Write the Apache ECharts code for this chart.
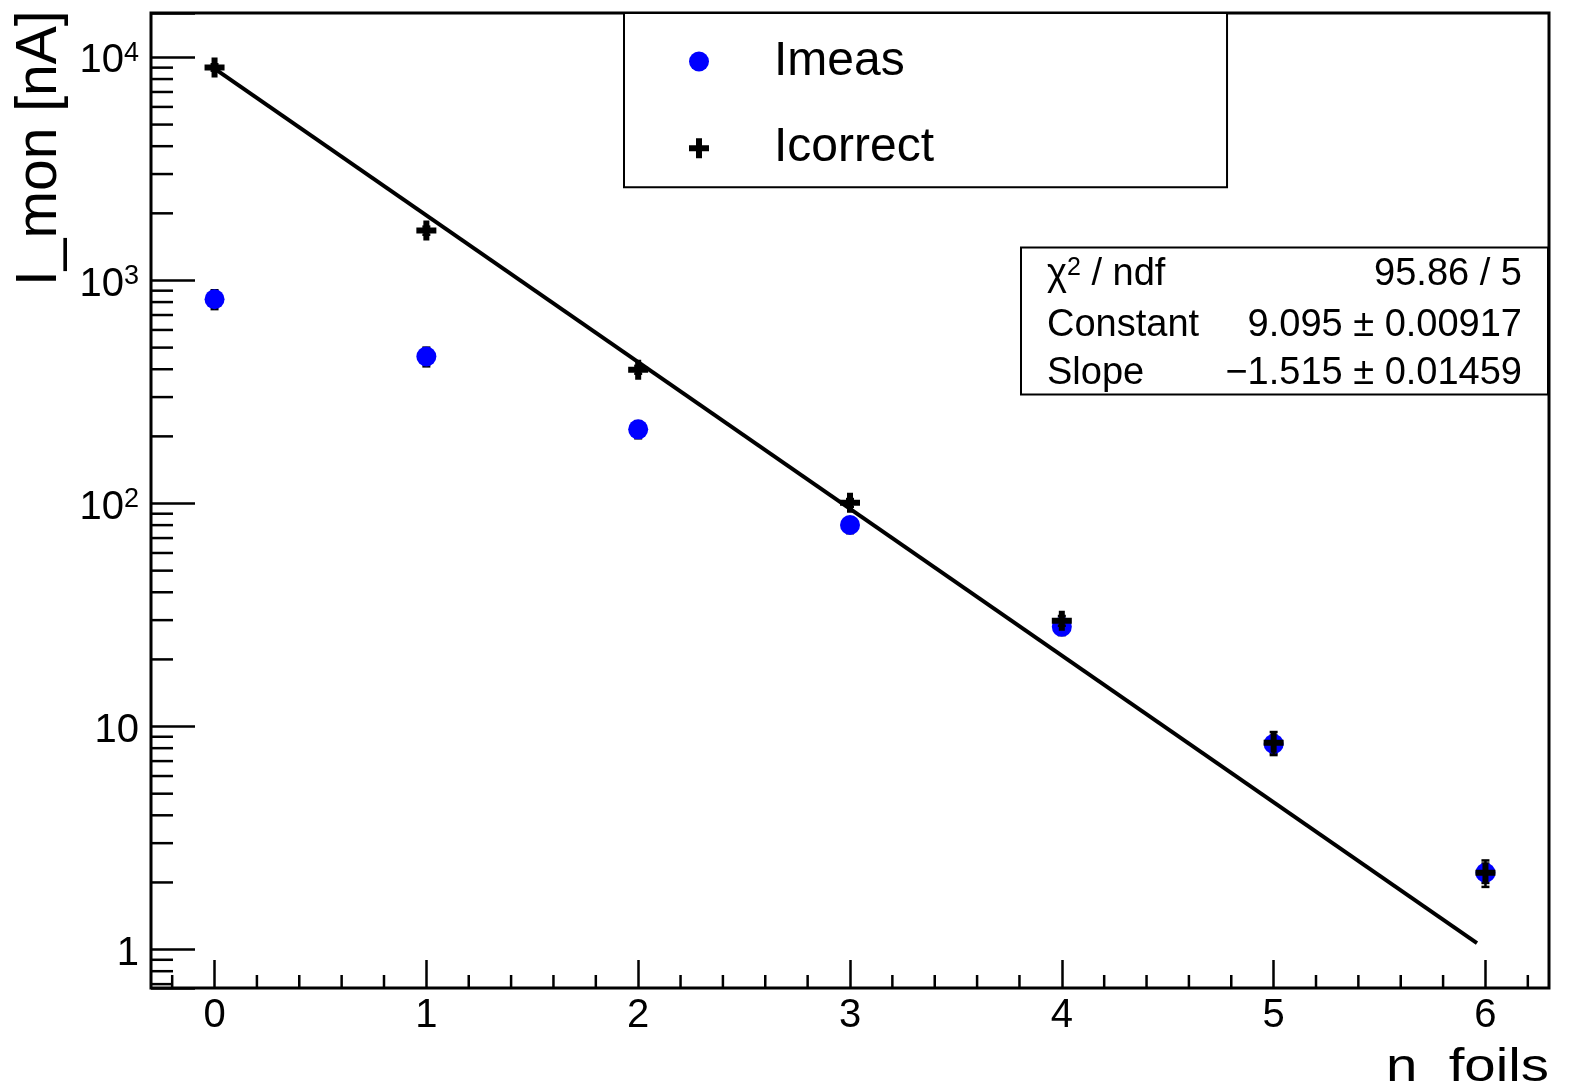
<!DOCTYPE html>
<html><head><meta charset="utf-8">
<script src="https://cdn.jsdelivr.net/npm/echarts@6/dist/echarts.min.js"></script>
<style>html,body{margin:0;padding:0;background:#fff}#c{width:1580px;height:1088px}</style>
</head><body><div id="c"></div>
<script>
// ---- data ----
const nFoils = [0, 1, 2, 3, 4, 5, 6];
const imeas = [824, 456, 215, 80.1, 28.0, 8.36, 2.21];
const imeasErr = [80, 44, 19, 6.5, 2.3, 0.75, 0.22];
const icorrect = [9018, 1673, 398, 100.7, 29.8, 8.45, 2.21];
const icorrectErr = [300, 70, 16, 4, 1.5, 1.0, 0.3];
const fitX = [0, 5.96];
const fitY = [8914, 1.068];
const xTickValues = [0, 1, 2, 3, 4, 5, 6];
const xTickLabels = ['0', '1', '2', '3', '4', '5', '6'];
const xMinorValues = [-0.2, 0.2, 0.4, 0.6, 0.8, 1.2, 1.4, 1.6, 1.8, 2.2, 2.4, 2.6, 2.8, 3.2, 3.4, 3.6, 3.8, 4.2, 4.4, 4.6, 4.8, 5.2, 5.4, 5.6, 5.8, 6.2];
const yTickValues = [1, 10, 100, 1000, 10000];
const yTickLabels = ['{base|1}', '{base|10}', '{base|10}{sup|2}', '{base|10}{sup|3}', '{base|10}{sup|4}'];
const yMinorMultipliers = [2, 3, 4, 5, 6, 7, 8, 9];
const yMinorDecades = [0.1, 1, 10, 100, 1000];
const statsNames = ['χ{sup|2} / ndf', 'Constant', 'Slope'];
const statsValues = ['95.86 / 5', '9.095 ± 0.00917', '\u22121.515 ± 0.01459'];
const seriesNames = ['Imeas', 'Icorrect'];
const xTitle = 'n  foils';
const yTitle = 'I_mon [nA]';

const X_MIN = -0.3, X_MAX = 6.3, Y_MIN = 0.6726, Y_MAX = 15820;
const FONT = '"Liberation Sans", Arial, Helvetica, sans-serif';

const yMinorValues = [];
yMinorDecades.forEach(d => yMinorMultipliers.forEach(m => {
  const v = +(m * d).toPrecision(6);
  if (v > Y_MIN && v < Y_MAX) yMinorValues.push(v);
}));

const plusPath = 'path://M7,0H13V7H20V13H13V20H7V13H0V7H7Z';

function errRender(params, api) {
  const x = api.value(0), y = api.value(1), e = api.value(2);
  const t = api.coord([x, y + e]);
  const b = api.coord([x, y - e]);
  const cw = 4, st = { stroke: '#000', lineWidth: 2.5 };
  return { type: 'group', children: [
    { type: 'line', shape: { x1: t[0], y1: t[1], x2: b[0], y2: b[1] }, style: st },
    { type: 'line', shape: { x1: t[0] - cw, y1: t[1], x2: t[0] + cw, y2: t[1] }, style: st },
    { type: 'line', shape: { x1: b[0] - cw, y1: b[1], x2: b[0] + cw, y2: b[1] }, style: st }
  ]};
}
function yMinorRender(params, api) {
  const p = api.coord([api.value(0), api.value(1)]);
  return { type: 'line', shape: { x1: p[0], y1: p[1], x2: p[0] + 22, y2: p[1] }, style: { stroke: '#000', lineWidth: 2.5 } };
}
function xMinorRender(params, api) {
  const p = api.coord([api.value(0), api.value(1)]);
  return { type: 'line', shape: { x1: p[0], y1: p[1], x2: p[0], y2: p[1] - 13 }, style: { stroke: '#000', lineWidth: 2.5 } };
}

const chart = echarts.init(document.getElementById('c'), null, { renderer: 'canvas' });
const statsChildren = [
  { type: 'rect', shape: { x: 1021, y: 247.5, width: 527, height: 147 }, style: { fill: '#fff', stroke: '#000', lineWidth: 2 } }
];
const rowY = [275, 326, 374];
statsNames.forEach((s, i) => {
  statsChildren.push({ type: 'text', x: 1047, y: rowY[i], style: {
    text: s, font: '38px ' + FONT, fill: '#000', align: 'left', verticalAlign: 'middle',
    rich: { sup: { fontSize: 25, fontFamily: FONT, verticalAlign: 'top', lineHeight: 24 } }
  }});
  statsChildren.push({ type: 'text', x: 1522, y: rowY[i], style: {
    text: statsValues[i], font: '38px ' + FONT, fill: '#000', align: 'right', verticalAlign: 'middle'
  }});
});

chart.setOption({
  backgroundColor: '#fff',
  animation: false,
  grid: { left: 151, top: 13, width: 1398, height: 975, show: true, borderColor: '#000', borderWidth: 3, backgroundColor: 'transparent' },
  xAxis: {
    type: 'value', min: X_MIN, max: X_MAX,
    axisLine: { show: false, onZero: false },
    splitLine: { show: false },
    axisTick: { show: true, inside: true, length: 28, customValues: xTickValues, lineStyle: { color: '#000', width: 2.5 } },
    axisLabel: { show: true, customValues: xTickValues, margin: 8, fontSize: 40, fontFamily: FONT, color: '#000',
      formatter: v => { const i = xTickValues.indexOf(Math.round(v)); return i >= 0 ? xTickLabels[i] : ''; } }
  },
  yAxis: {
    type: 'log', logBase: 10, min: Y_MIN, max: Y_MAX,
    axisLine: { show: false, onZero: false },
    splitLine: { show: false },
    minorTick: { show: false },
    axisTick: { show: true, inside: true, length: 44, lineStyle: { color: '#000', width: 2.5 } },
    axisLabel: { show: true, margin: 12, color: '#000', padding: [8, 0, 0, 0],
      formatter: v => {
        const l = Math.log10(v), k = Math.round(l);
        if (Math.abs(l - k) > 1e-6) return '';
        const i = yTickValues.indexOf(Math.pow(10, k));
        return i >= 0 ? yTickLabels[i] : '';
      },
      rich: {
        base: { fontSize: 40, fontFamily: FONT, color: '#000', lineHeight: 42 },
        sup: { fontSize: 27, fontFamily: FONT, color: '#000', lineHeight: 27, verticalAlign: 'top' }
      }
    }
  },
  legend: {
    data: seriesNames, orient: 'vertical', left: 624, top: 13,
    padding: [22.5, 293, 13, 65], itemGap: 34.7, itemWidth: 20, itemHeight: 20,
    borderColor: '#000', borderWidth: 2, backgroundColor: '#fff', selectedMode: false,
    textStyle: { fontSize: 48, fontFamily: FONT, color: '#000', lineHeight: 52, padding: [0, 0, 0, 60] }
  },
  graphic: [
    { type: 'group', z: 100, children: statsChildren },
    { type: 'text', x: 1549, y: 1068, scaleX: 1.2, style: { text: xTitle, font: '47px ' + FONT, fill: '#000', align: 'right', verticalAlign: 'middle' } },
    { type: 'text', x: 40, y: 286, rotation: Math.PI / 2, style: { text: yTitle, font: '57px ' + FONT, fill: '#000', align: 'left', verticalAlign: 'middle' } }
  ],
  series: [
    { name: 'fit', type: 'line', z: 2, symbol: 'none', silent: true,
      lineStyle: { color: '#000', width: 4 },
      data: fitX.map((x, i) => [x, fitY[i]]) },
    { name: 'ImeasErr', type: 'custom', z: 2, silent: true, renderItem: errRender,
      data: nFoils.map((x, i) => [x, imeas[i], imeasErr[i]]) },
    { name: 'Imeas', type: 'scatter', z: 3, symbol: 'circle', symbolSize: 20,
      itemStyle: { color: '#0000ff', opacity: 1 },
      data: nFoils.map((x, i) => [x, imeas[i]]) },
    { name: 'IcorrectErr', type: 'custom', z: 4, silent: true, renderItem: errRender,
      data: nFoils.map((x, i) => [x, icorrect[i], icorrectErr[i]]) },
    { name: 'Icorrect', type: 'scatter', z: 5, symbol: plusPath, symbolSize: 20,
      itemStyle: { color: '#000', opacity: 1 },
      data: nFoils.map((x, i) => [x, icorrect[i]]) },
    { name: 'yMinor', type: 'custom', z: 6, silent: true, renderItem: yMinorRender, clip: false,
      data: yMinorValues.map(v => [X_MIN, v]) },
    { name: 'xMinor', type: 'custom', z: 6, silent: true, renderItem: xMinorRender, clip: false,
      data: xMinorValues.map(v => [v, Y_MIN]) }
  ]
});
</script>
</body></html>
